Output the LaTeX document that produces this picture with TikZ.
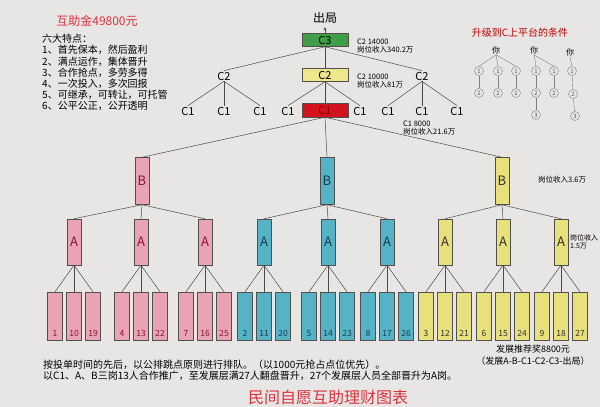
\documentclass[tikz,border=0pt]{standalone}
\usepackage{fontspec}
\setmainfont{Noto Sans CJK SC}

\definecolor{paper}{HTML}{E8E6E4}
\definecolor{wire}{HTML}{4A4A4A}
\definecolor{edge}{HTML}{505050}
\definecolor{pinkfill}{HTML}{E9A3B3}
\definecolor{pinktext}{HTML}{8A1535}
\definecolor{cyanfill}{HTML}{55B3C5}
\definecolor{cyantext}{HTML}{163A55}
\definecolor{yellowfill}{HTML}{E8E07A}
\definecolor{greenfill}{HTML}{3F9F48}
\definecolor{lightyellow}{HTML}{EEE78C}
\definecolor{redfill}{HTML}{D2121F}
\definecolor{redtext}{HTML}{E0303C}

\newcommand\fsz[1]{\fontsize{#1}{#1}\selectfont}

\tikzset{
  box/.style={draw=edge,line width=0.5pt,inner sep=0pt},
  cbox/.style={box,minimum width=46pt,minimum height=13pt,font=\fsz{11}},
  tallbox/.style={box,minimum width=14pt,minimum height=46pt,font=\fsz{13}},
  leaf/.style={box,minimum width=15pt,text height=43pt,text depth=3pt,inner ysep=1pt,font=\fsz{8.5}},
  pinkbox/.style={fill=pinkfill,text=pinktext},
  cyanbox/.style={fill=cyanfill,text=cyantext},
  yellowbox/.style={fill=yellowfill,text=black!80},
  ctext/.style={font=\fsz{11},inner sep=1pt},
  note/.style={anchor=west,align=left,inner sep=0pt,font=\fontsize{7.5}{8.5}\selectfont},
  link/.style={draw=wire,line width=0.5pt},
  ring/.style={circle,draw=gray,inner sep=0pt,minimum size=9pt,font=\fsz{6},text=gray!70!black},
  twig/.style={draw=gray,line width=0.4pt}
}

\begin{document}
\begin{tikzpicture}[x=1pt,y=-1pt]
  \fill[paper] (0,0) rectangle (600,407);
  \useasboundingbox (0,0) rectangle (600,407);

  % left column
  \node[text=redtext,font=\fsz{12}] (fund) at (97,21) {互助金49800元};
  \node[anchor=north west,align=left,inner sep=0pt,font=\fontsize{10}{11.2}\selectfont] (points) at (42,34)
    {六大特点：\\1、首先保本，然后盈利\\2、满点运作，集体晋升\\3、合作抢点，多劳多得\\
     4、一次投入，多次回报\\5、可继承，可转让，可托管\\6、公平公正，公开透明};

  % C levels
  \node[font=\fsz{12}] (out) at (325,18) {出局};
  \node[cbox,fill=greenfill] (c3) at (325,40) {C3};
  \node[cbox,fill=lightyellow] (c2) at (325,75) {C2};
  \node[ctext] (c2l) at (224,76) {C2};
  \node[ctext] (c2r) at (422,76) {C2};
  \node[cbox,fill=redfill,text=red!55!black,minimum height=14pt] (c1) at (325,110) {C1};
  \node[ctext] (c1la) at (188,111) {C1};
  \node[ctext] (c1lb) at (224,111) {C1};
  \node[ctext] (c1lc) at (260,111) {C1};
  \node[ctext] (c1ma) at (288,111) {C1};
  \node[ctext] (c1mc) at (360,111) {C1};
  \node[ctext] (c1ra) at (388,111) {C1};
  \node[ctext] (c1rb) at (422,111) {C1};
  \node[ctext] (c1rc) at (457,111) {C1};
  \draw[link,-stealth] (c3.north) -- (out.south);
  \draw[link] (c3.south) -- (c2.north);
  \draw[link] (c3.south) -- (c2l.north);
  \draw[link] (c3.south) -- (c2r.north);
  \draw[link] (c2.south) -- (c1ma.north);
  \draw[link] (c2.south) -- (c1.north);
  \draw[link] (c2.south) -- (c1mc.north);
  \foreach \t in {la,lb,lc} \draw[link] (c2l.south) -- (c1\t.north);
  \foreach \t in {ra,rb,rc} \draw[link] (c2r.south) -- (c1\t.north);
  \node[note] (c3note) at (357,46) {C2 14000\\岗位收入340.2万};
  \node[note] (c2note) at (357,81) {C2 10000\\岗位收入81万};
  \node[note] (c1note) at (403,128) {C1 8000\\岗位收入21.6万};

  % B, A and the 27 places
  \node[tallbox,pinkbox,minimum height=47pt] (bp) at (142,181) {B};
  \node[tallbox,cyanbox,minimum height=47pt] (bc) at (327,181) {B};
  \node[tallbox,yellowbox,minimum height=47pt] (by) at (502,181) {B};
  \foreach \b in {bp,bc,by} \draw[link] (c1.south) -- (\b.north);
  \node[note] (bnote) at (538,180) {岗位收入3.6万};
  \node[note,font=\fontsize{7}{8.5}\selectfont] (anote) at (570,242) {岗位收入\\1.5万};
  \foreach \n/\x/\sty/\up/\base in {1/74/pinkbox/bp/1, 2/141/pinkbox/bp/4, 3/205/pinkbox/bp/7,
      4/264/cyanbox/bc/2, 5/328/cyanbox/bc/5, 6/387/cyanbox/bc/8,
      7/445/yellowbox/by/3, 8/503/yellowbox/by/6, 9/561/yellowbox/by/9}{
    \node[tallbox,\sty] (a\n) at (\x,242) {A};
    \draw[link] (\up.south) -- (a\n.north);
    \foreach \dx/\k in {-19/0, 0/9, 19/18}{
      \pgfmathtruncatemacro\num{\base+\k}
      \node[leaf,\sty] (l\num) at (\x+\dx,316) {\num};
      \draw[link] (a\n.south) -- (l\num.north);
    }
  }

  % upgrade conditions
  \node[text=red!75!black,font=\fsz{10}] (cond) at (520,33) {升级到C上平台的条件};
  \node[font=\fsz{8},inner sep=1pt] (you1) at (496,50) {你};
  \node[font=\fsz{8},inner sep=1pt] (you2) at (534,50) {你};
  \node[font=\fsz{8},inner sep=1pt] (you3) at (570,52) {你};
  \node[ring] (t11) at (479,71) {1}; \node[ring] (t11b) at (479,93) {2};
  \node[ring] (t12) at (498,71) {1}; \node[ring] (t12b) at (498,93) {2};
  \node[ring] (t13) at (516,71) {1}; \node[ring] (t13b) at (516,93) {2};
  \node[ring] (t21) at (536,71) {1}; \node[ring] (t21b) at (536,93) {2};
  \node[ring] (t21c) at (536,115) {3};
  \node[ring] (t22) at (554,71) {1}; \node[ring] (t22b) at (554,93) {2};
  \node[ring] (t31) at (572,71) {1}; \node[ring] (t31b) at (573,94) {2};
  \node[ring] (t31c) at (575,116) {3};
  \foreach \t in {t11,t12,t13} \draw[twig] (you1.south) -- (\t.north);
  \foreach \t in {t21,t22} \draw[twig] (you2.south) -- (\t.north);
  \draw[twig] (you3.south) -- (t31.north);
  \foreach \p/\q in {t11/t11b,t12/t12b,t13/t13b,t21/t21b,t21b/t21c,t22/t22b,t31/t31b,t31b/t31c}
    \draw[twig] (\p) -- (\q);

  % bottom texts
  \node[anchor=north west,align=left,inner sep=0pt,font=\fontsize{10}{11}\selectfont] (rule) at (43,360)
    {按投单时间的先后，以公排跳点原则进行排队。（以1000元抢占点位优先）。\\
     以C1、A、B三岗13人合作推广，至发展层满27人翻盘晋升，27个发展层人员全部晋升为A岗。};
  \node[font=\fsz{9}] (bonus) at (533,349) {发展推荐奖8800元};
  \node[font=\fsz{9}] (path) at (533,361) {（发展A-B-C1-C2-C3-出局）};
  \node[anchor=base,text=redtext,font=\fsz{16}] (chart) at (328,403) {民间自愿互助理财图表};
\end{tikzpicture}
\end{document}
